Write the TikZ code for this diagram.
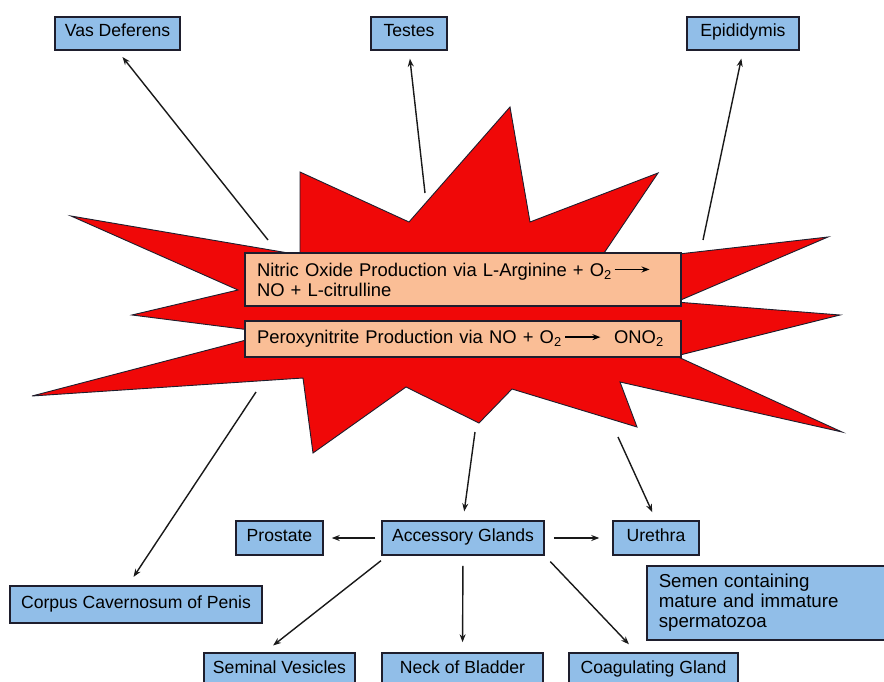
\documentclass[tikz,border=0pt]{standalone}
\usepackage{fontspec}
\setmainfont{Liberation Sans}
\usetikzlibrary{arrows.meta}
\definecolor{burst}{RGB}{240,8,8}
\definecolor{peach}{RGB}{250,190,150}
\definecolor{lblue}{RGB}{145,190,232}
\definecolor{edgec}{RGB}{30,30,45}
\tikzset{
  boxbase/.style={draw=edgec, line width=1.5pt, inner sep=0pt, text=black},
  lbl/.style={boxbase, fill=lblue, font=\fontsize{17.6}{20}\selectfont, text height=0.72em, text depth=0.02em},
  prod/.style={boxbase, fill=peach, font=\fontsize{18.4}{20}\selectfont, align=left},
  arr/.style={draw=black!90, line width=1.4pt, -{Stealth[length=8pt,width=6pt]}},
}
\newcommand{\rxarrow}{\tikz[baseline=0pt]\draw[line width=1.4pt,-{Stealth[length=8pt,width=6pt]}] (0pt,0.36em) -- (35pt,0.36em);}
\begin{document}
\begin{tikzpicture}[x=1pt,y=-1pt]
\clip (0,0) rectangle (884,682);
\fill[white] (0,0) rectangle (884,682);
% starburst
\filldraw[fill=burst, draw=edgec, line width=0.9pt]
  (300,172) -- (409,222) -- (510,107) -- (530,222) -- (658,173) -- (598,262)
  -- (670,255) -- (828,237) -- (676,302) -- (840,315) -- (676,356) -- (842,432)
  -- (620,382) -- (637,427) -- (512,389) -- (479,423) -- (406,387) -- (313,453)
  -- (303,378) -- (32,396) -- (250,339) -- (250,330) -- (132,315) -- (238,290)
  -- (71,216) -- (300,255) -- cycle;
% central boxes
\node[prod, minimum width=436, minimum height=53, text width=412] (no) at (463,279.5)
  {\mbox{Nitric Oxide Production via L-Arginine + O\textsubscript{2}\hspace{2pt}\rxarrow}\\NO + L-citrulline};
\node[prod, minimum width=436, minimum height=36, text width=412] (pn) at (463,339)
  {\mbox{Peroxynitrite Production via NO + O\textsubscript{2}\hspace{3pt}\rxarrow\hspace{13pt}ONO\textsubscript{2}}};
% top labels
\node[lbl, minimum width=125, minimum height=33] (vas) at (117.5,33.5) {Vas Deferens};
\node[lbl, minimum width=76, minimum height=33] (testes) at (409,33.5) {Testes};
\node[lbl, minimum width=112, minimum height=33] (epi) at (743,33.5) {Epididymis};
% bottom labels
\node[lbl, minimum width=87, minimum height=34] (pros) at (279.5,538) {Prostate};
\node[lbl, minimum width=162, minimum height=34] (acc) at (463,538) {Accessory Glands};
\node[lbl, minimum width=86, minimum height=34] (ure) at (656,538) {Urethra};
\node[lbl, minimum width=252, minimum height=37] (corpus) at (136,604.5) {Corpus Cavernosum of Penis};
\node[lbl, minimum width=151, minimum height=34] (sem) at (279.5,670) {Seminal Vesicles};
\node[lbl, minimum width=161, minimum height=34] (neck) at (462.5,670) {Neck of Bladder};
\node[lbl, minimum width=169, minimum height=34] (coag) at (653.5,670) {Coagulating Gland};
\node[boxbase, fill=lblue, font=\fontsize{18.7}{20}\selectfont, align=left, minimum width=250, minimum height=74, text width=226, anchor=west] (semen) at (646,603)
  {Semen containing\\mature and immature\\spermatozoa};
% arrow start points on the burst
\coordinate (svas) at (268,240);
\coordinate (stes) at (425,193);
\coordinate (sepi) at (703,240);
\coordinate (sacc) at (475,432);
\coordinate (sure) at (618,437);
\coordinate (scor) at (256,392);
% connectors
\draw[arr, shorten >=8pt] (svas) -- (vas.south);
\draw[arr, shorten >=8pt] (stes) -- (testes.south);
\draw[arr, shorten >=8pt] (sepi) -- (epi.south);
\draw[arr, shorten >=9pt] (sacc) -- (acc.north);
\draw[arr, shorten >=9pt] (sure) -- (ure.north);
\draw[arr, shorten >=10pt] (scor) -- ([xshift=-8pt]corpus.north);
\draw[arr, shorten <=6pt, shorten >=8pt] (acc.west) -- (pros.east);
\draw[arr, shorten <=9pt, shorten >=13pt] (acc.east) -- (ure.west);
\draw[arr, shorten <=8pt, shorten >=11pt] ([xshift=6pt]acc.south west) -- ([xshift=-15pt]sem.north);
\draw[arr, shorten <=10pt, shorten >=10pt] (acc.south) -- (neck.north);
\draw[arr, shorten <=8pt, shorten >=11pt] (acc.south east) -- ([xshift=-17pt]coag.north);
\end{tikzpicture}
\end{document}
